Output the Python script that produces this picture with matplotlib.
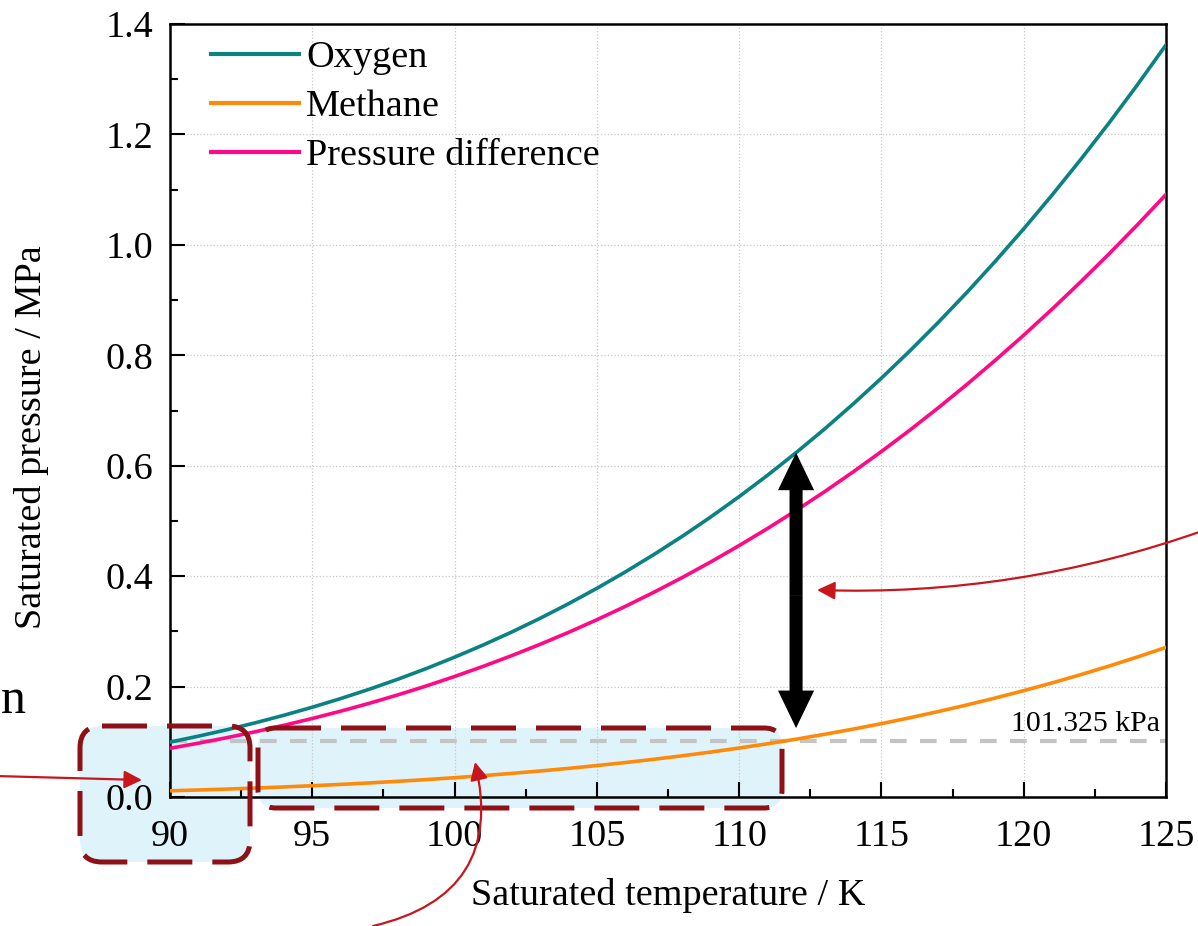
import matplotlib
matplotlib.use("Agg")
import matplotlib.pyplot as plt
import numpy as np
from matplotlib.patches import FancyBboxPatch, FancyArrowPatch
from matplotlib.ticker import MultipleLocator

plt.rcParams['font.family'] = ['Liberation Serif', 'DejaVu Serif']
plt.rcParams['mathtext.fontset'] = 'stix'

# saturation temperature, K
temperature = np.arange(90, 126)

# saturated vapour pressure, MPa
oxygen = np.array([
    0.0994, 0.1102, 0.1218, 0.1344, 0.1480, 0.1626, 0.1783, 0.1951, 0.2132, 0.2325,
    0.2532, 0.2752, 0.2986, 0.3235, 0.3499, 0.3779, 0.4076, 0.4390, 0.4721, 0.5071,
    0.5440, 0.5828, 0.6236, 0.6664, 0.7115, 0.7586, 0.8080, 0.8597, 0.9137, 0.9702,
    1.0290, 1.0904, 1.1544, 1.2209, 1.2902, 1.3622])
methane = np.array([
    0.01120, 0.01269, 0.01434, 0.01617, 0.01818, 0.02039, 0.02281, 0.02546, 0.02836, 0.03151,
    0.03495, 0.03868, 0.04272, 0.04709, 0.05182, 0.05691, 0.06239, 0.06830, 0.07462, 0.08141,
    0.08866, 0.09642, 0.10470, 0.11352, 0.12292, 0.13289, 0.14350, 0.15476, 0.16666, 0.17928,
    0.19261, 0.20668, 0.22153, 0.23717, 0.25365, 0.27100])
difference = oxygen - methane

atm = 0.101325     # MPa
t_arrow = 112      # K, where the pressure gap is marked

W, H = 1198, 926
fig = plt.figure(figsize=(W / 100, H / 100), dpi=100)

# pixel-unit layers: one under the plot for box fills, one over it for outlines/arrows
under = fig.add_axes([0, 0, 1, 1], zorder=0)
over = fig.add_axes([0, 0, 1, 1], zorder=5)
for lay in (under, over):
    lay.set_xlim(0, W)
    lay.set_ylim(H, 0)
    lay.axis('off')
    lay.patch.set_alpha(0)

ax = fig.add_axes([170 / W, 1 - 797 / H, 996 / W, 773 / H], zorder=2)
ax.patch.set_alpha(0)

ax.plot(temperature, oxygen, color='#0b8282', lw=2.6, label='Oxygen', zorder=3)
ax.plot(temperature, methane, color='#ff8a0a', lw=2.6, label='Methane', zorder=3)
ax.plot(temperature, difference, color='#ff0a84', lw=2.6, label='Pressure difference', zorder=3)

ax.axhline(atm, color='#c4c4c4', lw=3, dashes=(4, 3.2), zorder=2)
ax.annotate('101.325 kPa', xy=(125, atm), xytext=(-4, 7), textcoords='offset points',
            ha='right', va='baseline', fontsize=21.5)

# double arrow between the oxygen and methane curves
i = int(np.where(temperature == t_arrow)[0][0])
y_mid = 0.5 * (oxygen[i] + methane[i])
style = 'simple,head_length=1.35,head_width=1.3,tail_width=0.47'
ax.add_patch(FancyArrowPatch((t_arrow, y_mid), (t_arrow, oxygen[i]), arrowstyle=style,
                             mutation_scale=20, color='black', lw=0, shrinkA=0, shrinkB=0,
                             zorder=4))
ax.add_patch(FancyArrowPatch((t_arrow, y_mid), (t_arrow, methane[i]), arrowstyle=style,
                             mutation_scale=20, color='black', lw=0, shrinkA=0, shrinkB=8,
                             zorder=4))

ax.set_xlim(90, 125)
ax.set_ylim(0, 1.4)
ax.xaxis.set_major_locator(MultipleLocator(5))
ax.xaxis.set_minor_locator(MultipleLocator(2.5))
ax.yaxis.set_major_locator(MultipleLocator(0.2))
ax.yaxis.set_minor_locator(MultipleLocator(0.1))
ax.yaxis.set_major_formatter(lambda v, p: f'{v:.1f}')
ax.grid(True, which='major', color='#c8c8c8', ls=':', lw=0.9)
ax.tick_params(which='both', direction='in', top=False, right=False, labelsize=27.5, width=1.5)
ax.tick_params(axis='x', which='major', length=11, pad=16)
ax.tick_params(axis='y', which='major', length=11, pad=12)
ax.tick_params(which='minor', length=6)
for s in ax.spines.values():
    s.set_linewidth(1.8)

ax.set_xlabel('Saturated temperature / K', fontsize=27.5)
ax.set_ylabel('Saturated pressure / MPa', fontsize=27.5)
ax.xaxis.set_label_coords(0.5, -0.105)
ax.yaxis.set_label_coords(-0.121, 0.466)

leg = ax.legend(loc='upper left', bbox_to_anchor=(0.041, 0.979), frameon=False, fontsize=27.5,
                handlelength=2.3, handletextpad=0.2, labelspacing=0.38, borderpad=0,
                borderaxespad=0)
for line in leg.get_lines():
    line.set_linewidth(3)

red_dark = '#8e1118'
for x0, y0, w, h, r in [(80, 726, 170, 136, 22), (258, 728, 524, 80, 18)]:
    under.add_patch(FancyBboxPatch((x0, y0), w, h, boxstyle=f'round,pad=0,rounding_size={r}',
                                   facecolor='#dff3fb', edgecolor='none'))
    over.add_patch(FancyBboxPatch((x0, y0), w, h, boxstyle=f'round,pad=0,rounding_size={r}',
                                  facecolor='none', edgecolor=red_dark, lw=3.6,
                                  linestyle=(0, (9, 4))))

red = '#c8161d'
head = '-|>,head_length=0.6,head_width=0.3'
over.add_patch(FancyArrowPatch((-5, 776), (142, 780), arrowstyle=head, mutation_scale=18,
                               color=red, lw=1.6, shrinkA=0, shrinkB=0))
over.add_patch(FancyArrowPatch((1205, 530), (817, 590), arrowstyle=head, mutation_scale=18,
                               color=red, lw=1.6, shrinkA=0, shrinkB=0,
                               connectionstyle='arc3,rad=-0.095'))
over.add_patch(FancyArrowPatch((373, 926), (475, 762), arrowstyle=head, mutation_scale=18,
                               color=red, lw=1.6, shrinkA=0, shrinkB=0,
                               connectionstyle='arc3,rad=0.5'))

over.text(1, 713, 'n', ha='left', va='baseline', fontsize=36)

fig.savefig('out.png', dpi=100)
